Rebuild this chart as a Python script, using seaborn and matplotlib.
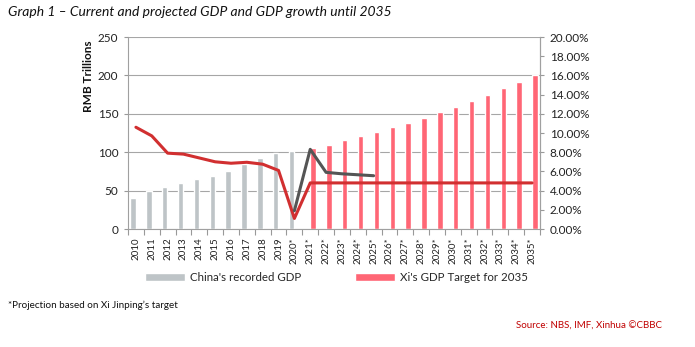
import numpy as np
import pandas as pd
import matplotlib
matplotlib.use("Agg")
import matplotlib.pyplot as plt
from matplotlib.ticker import FuncFormatter, FixedLocator
import seaborn as sns

years = ["2010", "2011", "2012", "2013", "2014", "2015", "2016", "2017", "2018", "2019",
         "2020*", "2021*", "2022*", "2023*", "2024*", "2025*", "2026*", "2027*", "2028*",
         "2029*", "2030*", "2031*", "2032*", "2033*", "2034*", "2035*"]
recorded_gdp = [41, 49.5, 54.5, 59.5, 64.5, 69.5, 75, 84, 92.5, 99.5, 101]
target_gdp = [105.5, 110, 115.5, 121, 126.5, 132.5, 138.5, 145, 152.5, 159.5,
              167, 174.5, 183, 191.5, 201]
growth_red = [10.6, 9.7, 7.9, 7.8, 7.4, 7.0, 6.85, 6.95, 6.75, 6.1, 1.1,
              4.8, 4.8, 4.8, 4.8, 4.8, 4.8, 4.8, 4.8, 4.8, 4.8, 4.8, 4.8, 4.8, 4.8, 4.8]
imf_years = ["2020*", "2021*", "2022*", "2023*", "2024*", "2025*"]
imf_growth = [1.9, 8.3, 5.9, 5.75, 5.65, 5.55]

series_names = ["China's recorded GDP", "Xi's GDP Target for 2035"]
gray_bar = "#BEC4C7"
red_bar = "#FF6675"
red_line = "#D12F30"
gray_line = "#555555"

df = pd.DataFrame({
    "year": years,
    "gdp": recorded_gdp + target_gdp,
    "series": [series_names[0]] * len(recorded_gdp) + [series_names[1]] * len(target_gdp),
})

sns.set_style("white")
plt.rcParams["font.family"] = ["Lato", "DejaVu Sans"]

fig = plt.figure(figsize=(6.95, 3.47), dpi=100)
ax = fig.add_axes([128 / 695, 1 - 229 / 347, 412 / 695, 192 / 347])

sns.barplot(data=df, x="year", y="gdp", hue="series", order=years,
            hue_order=series_names, palette=[gray_bar, red_bar],
            width=0.72, gap=0.05, dodge=True, ax=ax, saturation=1)

ax.set_xlim(-0.5, len(years) - 0.5)
ax.set_ylim(0, 250)
ax.set_yticks([0, 50, 100, 150, 200, 250])
ax.yaxis.grid(True, color="#A6A6A6", lw=0.8)
ax.set_axisbelow(True)
ax.set_xlabel("")
ax.set_ylabel("")
ax.tick_params(axis="y", labelsize=8.5, colors="#222222", length=3, width=0.8,
               left=True, color="#999999", pad=4)
ax.tick_params(axis="x", labelsize=7, rotation=90, length=0, pad=6, colors="#222222")
ax.xaxis.set_minor_locator(FixedLocator(np.arange(-0.5, len(years), 1.0)))
ax.tick_params(axis="x", which="minor", length=4, width=0.8, color="#999999", bottom=True)
ax.spines["top"].set_visible(False)
for s in ["left", "bottom", "right"]:
    ax.spines[s].set_color("#A0A0A0")
    ax.spines[s].set_linewidth(0.8)

sns.move_legend(ax, "upper left", bbox_to_anchor=(0.015, -0.17), ncol=2, frameon=False,
                title=None, fontsize=8.3, handlelength=3.5, handleheight=0.6,
                columnspacing=4.7, handletextpad=0.4)

ax2 = ax.twinx()
ax2.set_position(ax.get_position())
x_all = np.arange(len(years))
sns.lineplot(x=x_all, y=growth_red, color=red_line, lw=2.2, ax=ax2)
x_imf = np.array([years.index(y) for y in imf_years])
sns.lineplot(x=x_imf, y=imf_growth, color=gray_line, lw=2.2, ax=ax2)
ax2.set_ylim(0, 20)
ax2.set_yticks(np.arange(0, 21, 2))
ax2.yaxis.set_major_formatter(FuncFormatter(lambda v, p: f"{v:.2f}%"))
ax2.tick_params(axis="y", labelsize=8.5, colors="#222222", length=3, width=0.8,
                right=True, color="#999999", pad=4)
ax2.set_xlim(-0.5, len(years) - 0.5)
ax2.set_ylabel("")
for s in ["top", "left", "bottom"]:
    ax2.spines[s].set_visible(False)
ax2.spines["right"].set_color("#A0A0A0")
ax2.spines["right"].set_linewidth(0.8)
ax2.grid(False)

fig.text(88 / 695, 1 - 76 / 347, "RMB Trillions", rotation=90, ha="center", va="center",
         fontsize=8.5, fontweight="bold", color="#111111")
fig.text(8 / 695, 1 - 12 / 347, "Graph 1 \u2013 Current and projected GDP and GDP growth until 2035",
         ha="left", va="center", fontsize=10.0, style="italic", color="#111111")
fig.text(8 / 695, 1 - 305 / 347, "*Projection based on Xi Jinping\u2019s target",
         ha="left", va="center", fontsize=7.1, color="#111111")
fig.text(662 / 695, 1 - 326 / 347, "Source: NBS, IMF, Xinhua \u00a9CBBC",
         ha="right", va="center", fontsize=7.0, color="#C00000")

fig.savefig("out.png", dpi=100)
